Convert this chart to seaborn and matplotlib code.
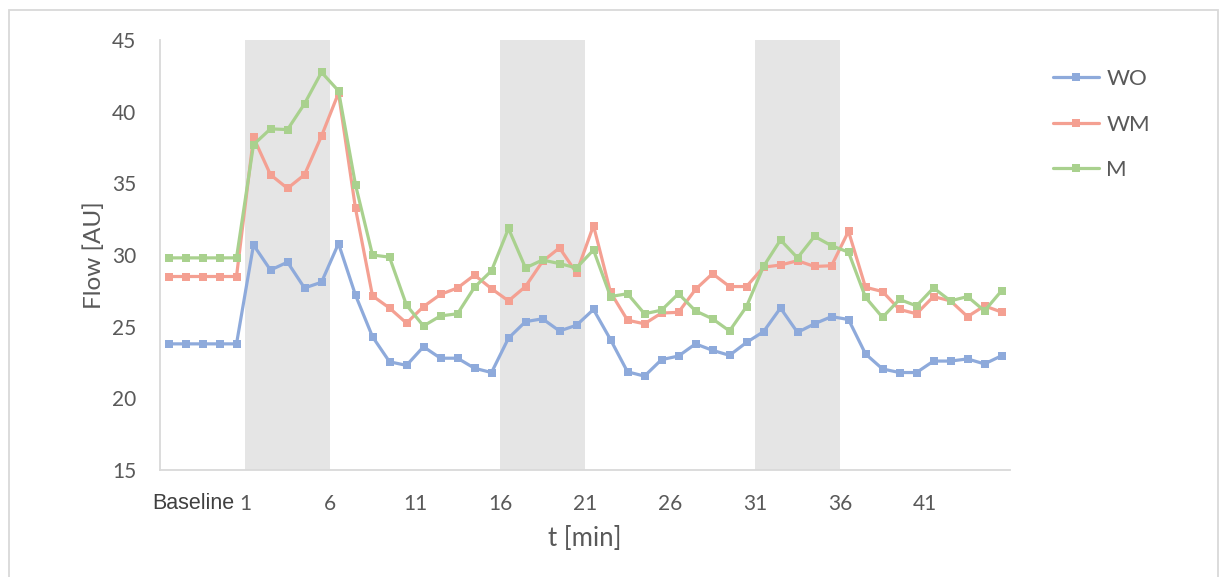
import numpy as np
import pandas as pd
import matplotlib
matplotlib.use("Agg")
import matplotlib.pyplot as plt
import matplotlib.transforms as mtrans
from matplotlib.patches import Rectangle
from matplotlib.lines import Line2D
import seaborn as sns

# ---------------- data ----------------
series_names = ["WO", "WM", "M"]
wo = [23.8, 23.8, 23.8, 23.8, 23.8,
      30.7, 28.95, 29.5, 27.7, 28.1, 30.8, 27.2, 24.3, 22.55, 22.3,
      23.6, 22.8, 22.8, 22.1, 21.8, 24.2, 25.35, 25.55, 24.7, 25.1,
      26.2, 24.1, 21.85, 21.55, 22.7, 22.95, 23.8, 23.35, 23.0, 23.9,
      24.65, 26.3, 24.6, 25.2, 25.7, 25.5, 23.1, 22.05, 21.8, 21.8,
      22.6, 22.6, 22.75, 22.4, 22.97]
wm = [28.5, 28.5, 28.5, 28.5, 28.5,
      38.2, 35.6, 34.65, 35.6, 38.3, 41.3, 33.25, 27.15, 26.3, 25.25,
      26.4, 27.25, 27.7, 28.6, 27.65, 26.8, 27.8, 29.55, 30.5, 28.75,
      32.05, 27.4, 25.45, 25.2, 25.95, 26.0, 27.6, 28.7, 27.8, 27.8,
      29.15, 29.3, 29.6, 29.2, 29.25, 31.65, 27.75, 27.45, 26.2, 25.9,
      27.1, 26.8, 25.7, 26.45, 26.02]
m = [29.8, 29.8, 29.8, 29.8, 29.8,
     37.7, 38.8, 38.75, 40.55, 42.75, 41.45, 34.9, 30.0, 29.85, 26.5,
     25.05, 25.75, 25.9, 27.75, 28.9, 31.85, 29.1, 29.65, 29.4, 29.1,
     30.35, 27.1, 27.3, 25.9, 26.15, 27.3, 26.1, 25.55, 24.7, 26.4,
     29.2, 31.05, 29.8, 31.3, 30.65, 30.2, 27.05, 25.65, 26.9, 26.45,
     27.7, 26.8, 27.1, 26.1, 27.5]
tick_labels = ["1", "6", "11", "16", "21", "26", "31", "36", "41"]
baseline_label = "Baseline"
shaded_periods = [("1", "6"), ("16", "21"), ("31", "36")]

colors = {"WO": "#8EAADB", "WM": "#F4A092", "M": "#A9D18E"}

n = len(wo)
idx = np.arange(n)
df = pd.DataFrame({
    "idx": np.tile(idx, 3),
    "value": wo + wm + m,
    "series": np.repeat(series_names, n),
})

# ---------------- figure ----------------
sns.set_style("white")
plt.rcParams["font.family"] = ["Lato", "DejaVu Sans"]

W, H = 1220, 577
fig = plt.figure(figsize=(W / 100, H / 100), dpi=100)
ax = fig.add_axes([160 / W, 1 - 470 / H, 850 / W, 430 / H])

label_pos = {lab: 4.5 + 5 * i for i, lab in enumerate(tick_labels)}
for a, b in shaded_periods:
    ax.axvspan(label_pos[a], label_pos[b], color="#E5E5E5", lw=0, zorder=0)

sns.lineplot(data=df, x="idx", y="value", hue="series", style="series",
             hue_order=series_names, palette=colors,
             markers={"WO": "s", "WM": "s", "M": "s"}, dashes=False,
             linewidth=2.3, markersize=5.5, markeredgewidth=0,
             legend=False, ax=ax, zorder=3)

ax.set_xlim(-0.5, n - 0.5)
ax.set_ylim(15, 45)
ax.set_yticks(np.arange(15, 46, 5))

ax.set_xticks([label_pos[l] for l in tick_labels])
ax.set_xticklabels(tick_labels)
ax.set_xticks(np.arange(-0.5, n, 1.0), minor=True)

gray = "#D9D9D9"
txt = "#595959"
for s in ["top", "right"]:
    ax.spines[s].set_visible(False)
for s in ["left", "bottom"]:
    ax.spines[s].set_color(gray)
    ax.spines[s].set_linewidth(1.3)
ax.tick_params(axis="both", which="both", direction="out", color=gray,
               width=1.2, length=5, labelcolor=txt, labelsize=15)
ax.tick_params(axis="x", which="major", pad=12)
ax.tick_params(axis="y", which="major", pad=12)
ax.grid(False)

ax.set_xlabel("t [min]", fontsize=18.5, color=txt, labelpad=9)
ax.set_ylabel("Flow [AU]", fontsize=17.5, color=txt, labelpad=5)

trans = mtrans.blended_transform_factory(ax.transData, ax.transAxes)
ax.text(label_pos["1"] - 0.65, -0.077, baseline_label, transform=trans,
        ha="right", va="center", fontsize=15.5, color="#404040",
        family=["Liberation Sans", "DejaVu Sans"])

handles = [Line2D([0], [0], color=colors[s], lw=2.3, marker="s",
                  markersize=5.5, markeredgewidth=0) for s in series_names]
fig.legend(handles, series_names, loc="upper left",
           bbox_to_anchor=(1033 / W, 1 - 49 / H), frameon=False,
           handlelength=2.05, handletextpad=0.35, labelspacing=1.15,
           prop={"size": 16}, labelcolor=txt)

fig.patches.append(Rectangle((9 / W, -0.01), (1218 - 9) / W, 1 - 10 / H + 0.01,
                             transform=fig.transFigure, fill=False,
                             edgecolor=gray, lw=1.3))

fig.savefig("out.png", dpi=100)
